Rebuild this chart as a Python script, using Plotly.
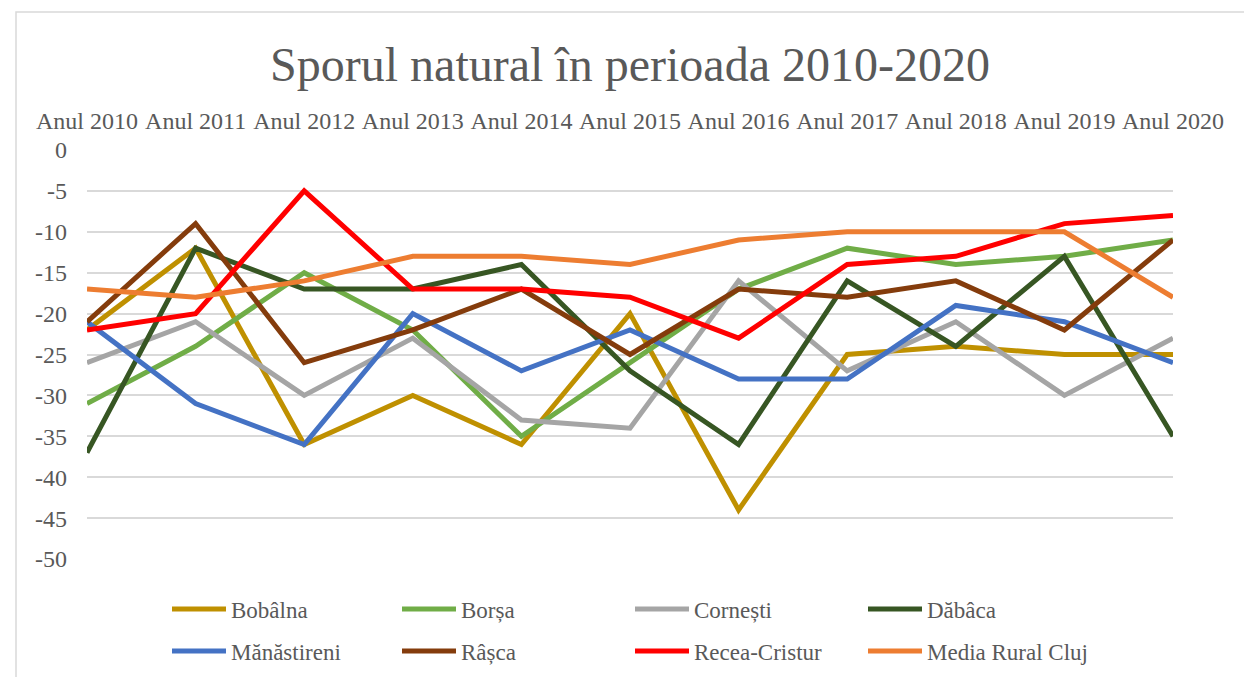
import plotly.graph_objects as go

years = ["Anul 2010", "Anul 2011", "Anul 2012", "Anul 2013", "Anul 2014", "Anul 2015",
         "Anul 2016", "Anul 2017", "Anul 2018", "Anul 2019", "Anul 2020"]

bobalna = [-22, -12, -36, -30, -36, -20, -44, -25, -24, -25, -25]
borsa = [-31, -24, -15, -22, -35, -26, -17, -12, -14, -13, -11]
cornesti = [-26, -21, -30, -23, -33, -34, -16, -27, -21, -30, -23]
dabaca = [-37, -12, -17, -17, -14, -27, -36, -16, -24, -13, -35]
manastireni = [-21, -31, -36, -20, -27, -22, -28, -28, -19, -21, -26]
rasca = [-21, -9, -26, -22, -17, -25, -17, -18, -16, -22, -11]
recea = [-22, -20, -5, -17, -17, -18, -23, -14, -13, -9, -8]
media = [-17, -18, -16, -13, -13, -14, -11, -10, -10, -10, -18]

series_names = ["Bobâlna", "Borșa", "Cornești", "Dăbâca",
                "Mănăstireni", "Râșca", "Recea-Cristur", "Media Rural Cluj"]
series_values = [bobalna, borsa, cornesti, dabaca, manastireni, rasca, recea, media]
colors = ["#BF9000", "#70AD47", "#A5A5A5", "#375623",
          "#4472C4", "#843C0C", "#FF0000", "#ED7D31"]

y_tickvals = [0, -5, -10, -15, -20, -25, -30, -35, -40, -45, -50]
y_ticktext = ["0", "-5", "-10", "-15", "-20", "-25", "-30", "-35", "-40", "-45", "-50"]

W, H = 1244, 677
L, R, T, B = 87, 1244 - 1173, 150, 677 - 559
pw, ph = W - L - R, H - T - B

FONT = "Liberation Serif, Times New Roman, serif"
GREY = "#595959"

# legend grid (pixel positions of each legend entry's box left edge / row centre)
leg_cols = [167, 397, 630, 863]
leg_rows = [609, 651]

def px_x(x):
    return (x - L) / pw

def px_y(y):
    return (H - B - y) / ph

fig = go.Figure()
legend_layouts = {}
for i, (name, vals, col) in enumerate(zip(series_names, series_values, colors)):
    key = "legend" if i == 0 else f"legend{i + 1}"
    fig.add_trace(go.Scatter(
        x=years, y=vals, name=name, mode="lines",
        line=dict(color=col, width=5),
        legend=key,
    ))
    legend_layouts[key] = dict(
        x=px_x(leg_cols[i % 4]), y=px_y(leg_rows[i // 4]),
        orientation="h", xanchor="left", yanchor="middle",
        font=dict(family=FONT, size=23, color=GREY),
        bgcolor="rgba(0,0,0,0)", itemwidth=54,
        itemclick=False, itemdoubleclick=False,
    )

fig.update_layout(
    width=W, height=H,
    margin=dict(l=L, r=R, t=T, b=B, pad=0, autoexpand=False),
    paper_bgcolor="white", plot_bgcolor="white",
    title=dict(text="Sporul natural în perioada 2010-2020",
               x=630 / W, xref="container", xanchor="center",
               y=1 - 64 / H, yref="container", yanchor="middle",
               font=dict(family=FONT, size=48, color=GREY)),
    xaxis=dict(type="category", categoryorder="array", categoryarray=years,
               range=[0, len(years) - 1], side="top", showgrid=False,
               showline=False, zeroline=False, ticks="", automargin=False,
               tickfont=dict(family=FONT, size=24, color=GREY),
               ticklabelstandoff=15),
    yaxis=dict(range=[-50, 0], tickmode="array", tickvals=y_tickvals,
               ticktext=y_ticktext, showgrid=True, automargin=False,
               gridcolor="#D9D9D9", gridwidth=1.5, zeroline=False,
               showline=False, ticks="",
               tickfont=dict(family=FONT, size=24, color=GREY),
               ticklabelstandoff=19),
    showlegend=True,
    shapes=[dict(type="rect", xref="paper", yref="paper",
                 x0=px_x(16), x1=px_x(W + 10), y0=px_y(H + 10), y1=px_y(12),
                 line=dict(color="#D9D9D9", width=1.5), layer="below")],
    **legend_layouts,
)

fig.write_html(
    "out.html",
    config={"displayModeBar": False},
    post_script="document.body.style.margin='0';document.body.style.padding='0';"
                "document.body.style.overflow='hidden';",
)
